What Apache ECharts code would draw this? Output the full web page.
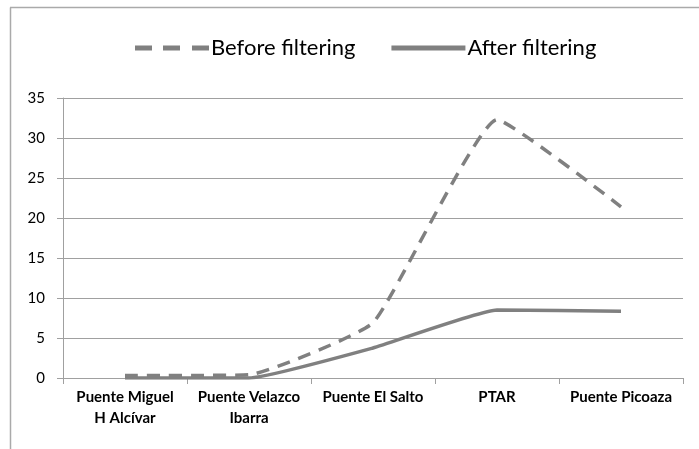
<!DOCTYPE html>
<html>
<head>
<meta charset="utf-8">
<script src="https://cdn.jsdelivr.net/npm/echarts@6/dist/echarts.min.js"></script>
<style>html,body{margin:0;padding:0;background:#fff}#c{width:699px;height:449px}</style>
</head>
<body>
<div id="c"></div>
<script>
var categories = ['Puente Miguel\nH Alcívar', 'Puente Velazco\nIbarra', 'Puente El Salto', 'PTAR', 'Puente Picoaza'];
var beforeFiltering = [0.3, 0.4, 6.9, 32.3, 21.4];
var afterFiltering = [0.0, 0.0, 3.75, 8.5, 8.35];
var yTicks = [0, 5, 10, 15, 20, 25, 30, 35];

var chart = echarts.init(document.getElementById('c'));
var FONT = 'Lato';
chart.setOption({
  animation: false,
  backgroundColor: '#fff',
  graphic: [
    {type: 'line', shape: {x1: 10, y1: 7.5, x2: 699, y2: 7.5}, style: {stroke: '#aaaaaa', lineWidth: 1.5}},
    {type: 'line', shape: {x1: 10.5, y1: 7.5, x2: 10.5, y2: 449}, style: {stroke: '#aaaaaa', lineWidth: 1.5}}
  ],
  legend: {
    top: 32,
    left: 130,
    itemGap: 36,
    itemWidth: 74,
    itemHeight: 5,
    textStyle: {fontFamily: FONT, fontSize: 22, color: '#000', padding: [0, 0, 0, -3]},
    data: [
      {name: 'Before filtering', icon: 'path://M0,0H17V5H0Z M28,0H45V5H28Z M57,0H74V5H57Z', itemStyle: {color: '#808080'}},
      {name: 'After filtering', icon: 'rect', itemStyle: {color: '#808080'}}
    ]
  },
  grid: {left: 63, right: 16, top: 98, bottom: 71},
  xAxis: {
    type: 'category',
    data: categories,
    boundaryGap: true,
    axisLine: {lineStyle: {color: '#a0a0a0', width: 1}},
    axisTick: {show: true, length: 6, lineStyle: {color: '#a0a0a0'}},
    axisLabel: {fontFamily: FONT, fontSize: 15, fontWeight: 'bold', color: '#000', margin: 9, lineHeight: 21, interval: 0}
  },
  yAxis: {
    type: 'value',
    min: 0, max: 35, interval: 5,
    axisLine: {show: true, lineStyle: {color: '#a0a0a0'}},
    axisTick: {show: true, length: 6, lineStyle: {color: '#a0a0a0'}},
    splitLine: {lineStyle: {color: '#a0a0a0', width: 1}},
    axisLabel: {fontFamily: FONT, fontSize: 15, color: '#000', margin: 18,
      formatter: function (v) { return yTicks.indexOf(v) >= 0 ? String(v) : ''; }}
  },
  series: [
    {name: 'Before filtering', type: 'line', data: beforeFiltering, smooth: 0.12, symbol: 'none',
      lineStyle: {color: '#808080', width: 3.5, type: [13, 9]}, itemStyle: {color: '#808080'}},
    {name: 'After filtering', type: 'line', data: afterFiltering, smooth: 0.12, symbol: 'none',
      lineStyle: {color: '#808080', width: 3.5}, itemStyle: {color: '#808080'}}
  ]
});
</script>
</body>
</html>
